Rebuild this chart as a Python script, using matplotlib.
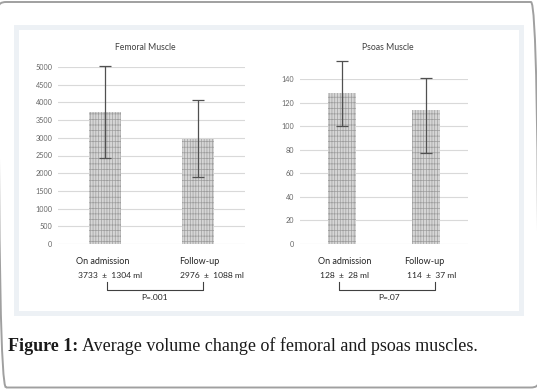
import matplotlib
matplotlib.use("Agg")
import matplotlib.pyplot as plt
from matplotlib.patches import Rectangle, FancyBboxPatch
from matplotlib.lines import Line2D

# data
categories = ["On admission", "Follow-up"]

femoral_mean = [3733, 2976]
femoral_err_low = [1304, 1088]
femoral_err_high = [1304, 1088]
femoral_labels = ["3733 \u00b1 1304 ml", "2976 \u00b1 1088 ml"]
femoral_p = "P=.001"

psoas_mean = [128, 114]
psoas_err_low = [28, 37]
psoas_err_high = [27, 27]
psoas_labels = ["128 \u00b1 28 ml", "114 \u00b1 37 ml"]
psoas_p = "P=.07"

W, H = 537, 389
plt.rcParams["hatch.linewidth"] = 0.5
plt.rcParams["hatch.color"] = "#9e9e9e"
sans = ["Lato", "DejaVu Sans"]


def fx(x):
    return x / W


def fy(y):
    return 1 - y / H


fig = plt.figure(figsize=(W / 100, H / 100), dpi=100)
fig.patch.set_facecolor("white")

# outer rounded frame and light panel border
fig.patches.append(FancyBboxPatch((fx(-1.5), fy(387.5)), fx(540), 385.5 / H,
                                  boxstyle="round,pad=0,rounding_size=0.014",
                                  transform=fig.transFigure, fill=False,
                                  edgecolor="#a0a0a0", linewidth=1.4))
fig.patches.append(Rectangle((fx(16), fy(312.5)), fx(504.5), 286 / H,
                             transform=fig.transFigure, fill=False,
                             edgecolor="#edf1f5", linewidth=3.6))


def draw_panel(left, right, top, ymax, step, means, lo, hi, title, title_x):
    ax = fig.add_axes([fx(left), fy(244), fx(right - left), (244 - top) / H])
    x = list(range(len(means)))
    ax.bar(x, means, width=0.34, color="#d6d6d6", hatch="|||+++", linewidth=0)
    ax.errorbar(x, means, yerr=[lo, hi], fmt="none", ecolor="#505050",
                elinewidth=0.9, capsize=4, capthick=0.9, clip_on=False)
    ax.set_xlim(-0.5, 1.5)
    ax.set_ylim(0, ymax)
    ax.set_yticks(range(0, ymax + 1, step))
    ax.set_xticks([])
    ax.grid(axis="y", color="#d9d9d9", linewidth=0.8)
    ax.set_axisbelow(True)
    for s in ax.spines.values():
        s.set_visible(False)
    ax.tick_params(axis="y", length=0, pad=4, labelsize=5.2, labelcolor="#666666")
    for t in ax.get_yticklabels():
        t.set_family(sans)
    fig.text(fx(title_x), fy(47), title, ha="center", va="center",
             fontsize=6.2, color="#404040", family=sans)
    return ax


draw_panel(58, 245, 67, 5000, 500, femoral_mean, femoral_err_low,
           femoral_err_high, "Femoral Muscle", 145)
draw_panel(300, 468, 79, 140, 20, psoas_mean, psoas_err_low,
           psoas_err_high, "Psoas Muscle", 388)


def under_text(cat_x, val_x, vals, br, p, p_x):
    for cx, c in zip(cat_x, categories):
        fig.text(fx(cx), fy(261), c, ha="center", va="center", fontsize=6.5,
                 color="#262626", family=sans)
    for vx, v in zip(val_x, vals):
        fig.text(fx(vx), fy(275), v.replace(" \u00b1 ", "  \u00b1  "),
                 ha="center", va="center", fontsize=6.1,
                 color="#262626", family=sans)
    xs = [fx(br[0]), fx(br[0]), fx(br[1]), fx(br[1])]
    ys = [fy(282), fy(290), fy(290), fy(282)]
    fig.lines.append(Line2D(xs, ys, transform=fig.transFigure,
                            color="#404040", linewidth=0.8))
    fig.text(fx(p_x), fy(298), p, ha="center", va="center", fontsize=6.1,
             color="#262626", family=sans)


under_text([103, 199], [110, 212], femoral_labels, (107, 203), femoral_p, 155)
under_text([345, 424], [344, 432], psoas_labels, (339, 435), psoas_p, 389)

# caption
cap = fig.text(fx(8), fy(351), "Figure 1:", ha="left", va="baseline",
               fontsize=13.0, fontweight="bold", family="Liberation Serif",
               color="#1a1a1a")
fig.canvas.draw()
bb = cap.get_window_extent()
fig.text(bb.x1 / W + fx(4), fy(351), "Average volume change of femoral and psoas muscles.",
         ha="left", va="baseline", fontsize=13.0, family="Liberation Serif",
         color="#1a1a1a")

fig.savefig("out.png", dpi=100)
